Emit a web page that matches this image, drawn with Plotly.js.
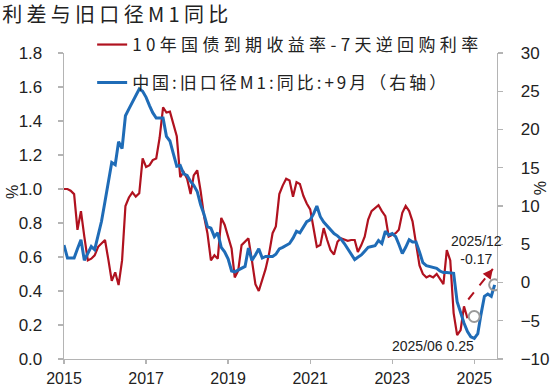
<!DOCTYPE html>
<html>
<head>
<meta charset="utf-8">
<script src="https://cdn.plot.ly/plotly-3.0.1.min.js"></script>
<style>
body{margin:0;padding:0;background:#fff;}
</style>
</head>
<body>
<div id="chart" style="width:550px;height:388px;"></div>
<script>
// Series start month (monthly data)
const startYear = 2015;
const startMonth = 1;

// 10年国债到期收益率-7天逆回购利率 (%), monthly from 2015-01
const spreadValues = [
  1.00,1.00,0.99,0.97,0.76,0.87,0.72,0.58,0.59,0.61,0.66,0.68,
  0.70,0.58,0.46,0.51,0.435,0.58,0.90,0.95,0.98,0.955,0.975,1.18,
  1.13,1.14,1.17,1.18,1.30,1.48,1.45,1.455,1.38,1.31,1.07,1.10,
  1.06,0.97,1.08,1.11,0.99,0.84,0.74,0.58,0.61,0.59,0.83,0.79,
  0.72,0.65,0.48,0.52,0.67,0.69,0.71,0.58,0.44,0.40,0.46,0.53,
  0.62,0.74,0.78,0.97,1.02,1.06,1.05,0.955,1.04,1.03,0.96,0.915,
  0.88,0.76,0.66,0.67,0.77,0.70,0.64,0.615,0.69,0.71,0.70,0.695,
  0.70,0.70,0.63,0.67,0.72,0.82,0.87,0.89,0.905,0.87,0.84,0.72,
  0.73,0.74,0.76,0.86,0.90,0.87,0.81,0.69,0.55,0.50,0.48,0.49,
  0.48,0.50,0.47,0.44,0.64,0.58,0.27,0.14,0.17,0.31,0.24
];

// 中国:旧口径M1:同比:+9月 (%), monthly from 2015-01 (right axis)
const m1Values = [
  4.9,3.2,3.2,3.2,4.4,5.6,2.9,3.8,4.7,4.3,6.4,8.0,
  10.6,13.3,15.7,15.4,18.4,17.5,21.8,22.7,23.6,24.4,25.3,25.0,
  24.2,23.1,22.2,21.5,21.5,21.5,19.1,18.5,16.8,15.2,15.3,14.2,
  14.0,13.2,12.7,11.9,10.2,8.9,7.3,7.1,6.0,6.5,4.6,4.0,
  3.1,1.5,1.4,1.6,1.9,2.1,4.5,2.9,3.6,4.4,3.2,3.4,
  3.4,3.4,3.7,4.4,4.6,4.9,5.1,5.8,6.7,6.5,7.2,7.95,
  8.2,9.0,10.0,8.6,7.9,7.4,7.0,6.4,6.1,5.7,5.1,4.4,
  3.8,3.0,3.3,3.6,4.1,4.6,4.7,4.8,5.5,5.1,6.7,6.2,
  6.4,6.0,5.0,3.8,4.6,5.6,5.3,5.3,4.0,2.6,2.2,2.1,
  2.0,1.85,1.5,1.3,1.3,1.25,1.2,-2.5,-4.0,-5.3,-6.4,-7.1,
  -7.3,-6.7,-4.2,-1.8,-1.5,-1.8,-0.3
];

// Highlighted points and labels
const markDates = ['2024-12-31'];
const markValues = [0.25];
const labelA = '2025/06 0.25';
const labelB = '2025/12<br>-0.17';
const arrowFrom = {date: '2024-11-08', value: 0.35};
const arrowTo = {date: '2025-06-15', value: 0.53};

const seriesNames = ['10年国债到期收益率-7天逆回购利率', '中国:旧口径M1:同比:+9月（右轴）'];
const xTickFormat = '%Y';

function monthDates(n) {
  const out = [];
  for (let i = 0; i < n; i++) {
    const t = (startMonth - 1) + i;
    const y = startYear + Math.floor(t / 12);
    const m = (t % 12) + 1;
    out.push(y + '-' + (m < 10 ? '0' + m : m) + '-01');
  }
  return out;
}

const spreadDates = monthDates(spreadValues.length);
const m1Dates = monthDates(m1Values.length);

const RED = '#b0121f';
const BLUE = '#1f6cb7';
const AX = '#b4b4b4';
const FONT = 'Liberation Sans, Arial, Noto Sans CJK SC, sans-serif';
const CJK = 'Noto Sans CJK SC, Liberation Sans, sans-serif';

const traces = [
  {x: spreadDates, y: spreadValues, type: 'scatter', mode: 'lines', name: seriesNames[0],
   line: {color: RED, width: 2.2}, legend: 'legend', showlegend: true},
  {x: m1Dates, y: m1Values, type: 'scatter', mode: 'lines', name: seriesNames[1],
   line: {color: BLUE, width: 3}, yaxis: 'y2', legend: 'legend2', showlegend: true}
];

const lastM1Date = m1Dates[m1Dates.length - 1];
const lastM1 = m1Values[m1Values.length - 1];

const layout = {
  width: 550, height: 388,
  showlegend: true,
  margin: {l: 64, r: 53, t: 53, b: 29},
  paper_bgcolor: '#fff', plot_bgcolor: '#fff',
  font: {family: FONT, size: 17, color: '#222'},
  title: {text: '利差与旧口径M1同比', x: 0.004, xref: 'container', xanchor: 'left',
          y: 1 - 15/388, yref: 'container', yanchor: 'middle',
          font: {family: CJK, size: 20, color: '#222'}},
  xaxis: {type: 'date', range: ['2015-01-01', '2025-07-22'], tick0: '2015-01-01', dtick: 'M24',
          tickformat: xTickFormat, showgrid: false, zeroline: false, showline: true, linecolor: AX, linewidth: 1.3,
          ticks: 'outside', ticklen: 4, tickcolor: AX, tickwidth: 1.3,
          tickfont: {family: FONT, size: 16, color: '#222'}},
  yaxis: {range: [0, 1.8], dtick: 0.2, tick0: 0, tickformat: '.1f', showgrid: false, zeroline: false,
          showline: true, linecolor: AX, linewidth: 1.3, ticks: 'outside', ticklen: 5, tickcolor: AX, tickwidth: 1.3,
          ticklabelstandoff: 12, tickfont: {family: FONT, size: 17, color: '#222'}},
  yaxis2: {range: [-10, 30], dtick: 5, tick0: 0, overlaying: 'y', side: 'right', showgrid: false, zeroline: false,
          showline: true, linecolor: AX, linewidth: 1.3, ticks: 'outside', ticklen: 5, tickcolor: AX, tickwidth: 1.3,
          ticklabelstandoff: 14, tickfont: {family: FONT, size: 17, color: '#222'}},
  legend: {x: 0.065, y: 1.085, xanchor: 'left', yanchor: 'top', bgcolor: 'rgba(0,0,0,0)', borderwidth: 0,
           font: {family: CJK, size: 17, color: '#222'}},
  legend2: {x: 0.065, y: 0.961, xanchor: 'left', yanchor: 'top', bgcolor: 'rgba(0,0,0,0)', borderwidth: 0,
           font: {family: CJK, size: 17, color: '#222'}},
  shapes: [
    {type: 'circle', xref: 'x', yref: 'y2', xsizemode: 'pixel', ysizemode: 'pixel',
     xanchor: lastM1Date, yanchor: lastM1, x0: -5.5, x1: 5.5, y0: -5.5, y1: 5.5,
     line: {color: '#9a9a9a', width: 2}},
    {type: 'circle', xref: 'x', yref: 'y', xsizemode: 'pixel', ysizemode: 'pixel',
     xanchor: markDates[0], yanchor: markValues[0], x0: -5.5, x1: 5.5, y0: -5.5, y1: 5.5,
     line: {color: '#9a9a9a', width: 2}},
    {type: 'line', xref: 'x', yref: 'y', x0: arrowFrom.date, y0: arrowFrom.value, x1: arrowTo.date, y1: arrowTo.value,
     line: {color: RED, width: 2, dash: 'dash'}}
  ],
  annotations: [
    {x: arrowTo.date, y: arrowTo.value, xref: 'x', yref: 'y', showarrow: true, text: '',
     ax: -7, ay: 9, arrowhead: 2, arrowsize: 1, arrowwidth: 2, arrowcolor: RED},
    {xref: 'paper', yref: 'paper', x: (476.7-64)/433, y: (359-250)/306, xanchor: 'center', yanchor: 'middle',
     text: labelB, showarrow: false, align: 'center', font: {family: FONT, size: 14, color: '#222'}},
    {xref: 'paper', yref: 'paper', x: (432.5-64)/433, y: (359-346)/306, xanchor: 'center', yanchor: 'middle',
     text: labelA, showarrow: false, font: {family: FONT, size: 14, color: '#222'}},
    {xref: 'paper', yref: 'paper', x: (12-64)/433, y: (359-192)/306, xanchor: 'center', yanchor: 'middle',
     text: '%', textangle: -90, showarrow: false, font: {family: FONT, size: 16, color: '#222'}},
    {xref: 'paper', yref: 'paper', x: (540-64)/433, y: (359-188)/306, xanchor: 'center', yanchor: 'middle',
     text: '%', textangle: 90, showarrow: false, font: {family: FONT, size: 16, color: '#222'}}
  ]
};

// Stretch text to the widths seen in the reference (spacing only, glyphs unchanged)
const legendTextWidths = {legendtext: 346, legend2text: 314};
const titleTextWidth = 226;

function spaceText() {
  const root = document.getElementById('chart');
  Object.keys(legendTextWidths).forEach(function (cls) {
    root.querySelectorAll('text.' + cls).forEach(function (t) {
      t.setAttribute('textLength', legendTextWidths[cls]);
      t.setAttribute('lengthAdjust', 'spacing');
    });
  });
  root.querySelectorAll('text.gtitle').forEach(function (t) {
    t.setAttribute('textLength', titleTextWidth);
    t.setAttribute('lengthAdjust', 'spacing');
  });
  root.querySelectorAll('g.infolayer [clip-path]').forEach(function (el) {
    el.removeAttribute('clip-path');
  });
}

Plotly.newPlot('chart', traces, layout, {displayModeBar: false, staticPlot: true}).then(spaceText);
</script>
</body>
</html>
